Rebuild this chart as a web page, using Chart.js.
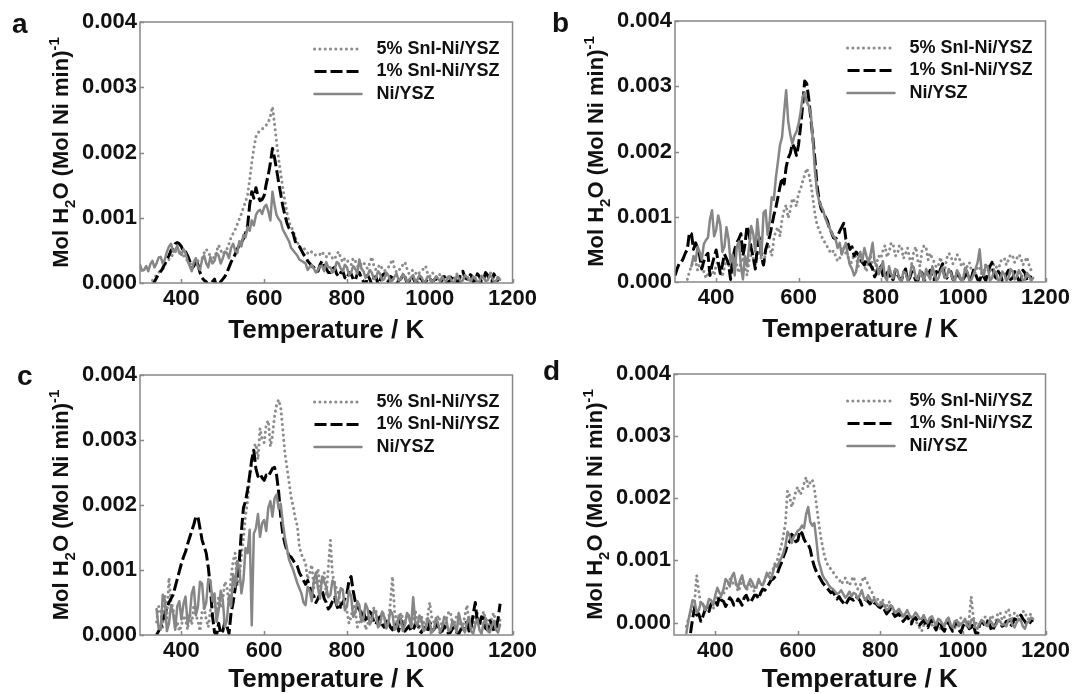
<!DOCTYPE html>
<html>
<head>
<meta charset="utf-8">
<script src="https://cdn.jsdelivr.net/npm/chart.js@4.4.1/dist/chart.umd.min.js"></script>
<style>
  html, body { margin: 0; padding: 0; background: #fff; }
  #wrap { position: relative; width: 1073px; height: 694px; overflow: hidden; }
  canvas { position: absolute; }
</style>
</head>
<body>
<div id="wrap">
  <canvas id="chartA" width="540" height="345" style="left:0;top:0"></canvas>
  <canvas id="chartB" width="533" height="345" style="left:540px;top:0"></canvas>
  <canvas id="chartC" width="540" height="349" style="left:0;top:345px"></canvas>
  <canvas id="chartD" width="533" height="349" style="left:540px;top:345px"></canvas>
</div>
<script>
// temperature grid, K (one row = 100 K)
const temps = [
  300, 305, 310, 315, 320, 325, 330, 335, 340, 345, 350, 355, 360, 365, 370, 375, 380, 385, 390, 395,
  400, 405, 410, 415, 420, 425, 430, 435, 440, 445, 450, 455, 460, 465, 470, 475, 480, 485, 490, 495,
  500, 505, 510, 515, 520, 525, 530, 535, 540, 545, 550, 555, 560, 565, 570, 575, 580, 585, 590, 595,
  600, 605, 610, 615, 620, 625, 630, 635, 640, 645, 650, 655, 660, 665, 670, 675, 680, 685, 690, 695,
  700, 705, 710, 715, 720, 725, 730, 735, 740, 745, 750, 755, 760, 765, 770, 775, 780, 785, 790, 795,
  800, 805, 810, 815, 820, 825, 830, 835, 840, 845, 850, 855, 860, 865, 870, 875, 880, 885, 890, 895,
  900, 905, 910, 915, 920, 925, 930, 935, 940, 945, 950, 955, 960, 965, 970, 975, 980, 985, 990, 995,
  1000, 1005, 1010, 1015, 1020, 1025, 1030, 1035, 1040, 1045, 1050, 1055, 1060, 1065, 1070, 1075, 1080, 1085, 1090, 1095,
  1100, 1105, 1110, 1115, 1120, 1125, 1130, 1135, 1140, 1145, 1150, 1155, 1160, 1165, 1170
];

// values in units of 1e-4 mol H2O (mol Ni min)^-1
// panel a
const aFive = [
  null, null, null, null, null, null, 0.4, 0.8, 1.2, 1.6, 2.0, 2.4, 2.8, 3.2, 3.6, 4.0, 4.4, 4.8, 5.0, 4.8,
  4.6, 4.2, 3.8, 3.4, 3.0, 2.8, 2.6, 3.0, 3.4, 3.6, 3.8, 4.6, 5.2, 4.6, 4.2, 4.0, 3.8, 4.8, 5.8, 5.0,
  4.4, 4.8, 5.2, 6.0, 7.0, 7.6, 8.2, 9.0, 9.8, 10.6, 11.6, 12.4, 13.6, 15.8, 18.4, 20.6, 22.4, 23.0, 23.4, 23.6,
  23.8, 24.2, 24.6, 25.6, 27.0, 24.4, 21.6, 19.0, 16.8, 14.6, 12.6, 10.8, 9.4, 8.6, 8.0, 7.0, 6.2, 5.8, 5.2, 5.4,
  5.0, 4.6, 4.4, 4.8, 4.6, 4.2, 4.2, 4.4, 4.8, 4.2, 4.0, 4.6, 4.4, 3.8, 3.6, 4.4, 4.8, 3.8, 3.2, 3.8,
  3.6, 3.0, 2.8, 3.8, 3.4, 2.6, 2.4, 3.0, 3.2, 2.6, 2.2, 3.0, 4.0, 2.6, 2.0, 2.4, 2.8, 2.2, 1.8, 2.2,
  2.4, 3.0, 3.6, 2.2, 1.6, 2.0, 2.2, 2.8, 3.2, 2.2, 1.4, 1.8, 2.0, 1.6, 1.2, 1.6, 1.8, 2.2, 2.6, 1.4,
  1.0, 1.6, 1.4, 1.0, 0.8, 1.4, 1.2, 0.8, 0.6, 1.2, 1.0, 0.6, 0.8, 1.4, 1.2, 0.6, 0.6, 1.0, 1.0, 0.6,
  0.4, 1.0, 0.8, 1.4, 1.2, 0.6, 0.5, 1.2, 1.0, 1.6, 1.4, 0.8, 0.6, 0.9, null
];
const aOne = [
  null, null, null, null, null, null, -0.5, 0.2, 0.8, 1.4, 1.8, 2.2, 3.0, 3.6, 4.2, 5.0, 5.4, 6.0, 6.2, 6.0,
  5.6, 4.8, 4.8, 4.2, 3.4, 2.2, 2.6, 3.6, 2.8, 1.6, 0.8, 0.4, 0.2, -0.4, -0.4, 0.2, 0.6, -0.6, -0.5, 0.2,
  0.6, 1.0, 1.6, 2.4, 3.2, 3.8, 4.4, 5.2, 5.8, 6.2, 6.8, 7.6, 8.8, 12.0, 14.0, 13.0, 14.6, 13.4, 12.6, 12.8,
  13.4, 15.2, 16.6, 18.4, 20.6, 19.2, 17.4, 15.4, 13.6, 11.8, 10.4, 9.2, 8.4, 8.0, 7.6, 6.4, 5.8, 5.6, 5.0, 4.4,
  4.0, 3.4, 3.0, 2.6, 2.4, 1.8, 1.8, 2.8, 3.4, 2.6, 2.2, 1.6, 1.6, 2.2, 2.4, 1.4, 1.0, 1.6, 1.8, 0.8,
  0.6, 1.6, 1.4, 0.6, 0.4, 1.4, 1.6, 0.8, 0.2, -0.4, 1.2, 0.6, -0.2, 0.8, 1.0, -0.2, 0.4, 1.2, 1.4, 0.6,
  0.2, 1.0, 0.8, 0.0, -0.2, 0.4, 0.6, 1.2, 1.0, 0.0, 0.2, 1.0, 0.8, 0.0, -0.2, 0.8, 0.6, 0.0, 0.2, 0.6,
  0.8, 0.2, 0.4, 0.8, 0.2, -0.2, 0.6, 1.0, -0.2, 0.2, 0.4, 1.0, 0.8, 0.2, 0.2, 1.6, 1.8, 0.8, 0.6, 1.4,
  1.2, 0.2, 0.4, 1.4, 1.0, 0.2, 0.6, 1.6, 1.2, 0.4, 0.2, 1.4, 0.8, 0.2, null
];
const aNi = [
  2.8, 1.9, 2.0, 2.6, 1.8, 2.9, 3.4, 2.4, 3.0, 3.9, 4.0, 3.0, 3.6, 4.8, 5.6, 6.0, 4.8, 5.0, 5.7, 4.6,
  4.3, 5.2, 4.6, 3.4, 2.6, 1.8, 3.2, 3.8, 2.4, 2.0, 3.6, 4.2, 3.0, 2.4, 4.0, 3.0, 3.4, 4.6, 4.2, 3.0,
  3.8, 4.8, 4.6, 3.8, 5.4, 6.0, 5.0, 4.6, 6.4, 5.6, 7.4, 7.0, 8.6, 8.0, 9.6, 8.8, 10.4, 11.0, 11.2, 10.6,
  11.6, 12.0, 11.0, 9.6, 14.0, 12.0, 10.4, 9.8, 9.4, 8.2, 7.6, 7.0, 6.4, 5.4, 5.0, 4.6, 4.2, 3.6, 3.4, 3.2,
  3.0, 2.0, 2.4, 2.8, 2.2, 1.6, 2.0, 2.6, 2.6, 1.8, 3.2, 2.4, 2.4, 1.6, 2.0, 3.2, 3.0, 2.2, 1.8, 2.8,
  2.4, 1.2, 1.6, 2.6, 2.2, 1.4, 3.6, 2.2, 1.8, 0.8, 1.2, 2.0, 1.6, 0.6, 0.8, 1.8, 1.4, 0.4, 0.6, 1.6,
  1.2, 0.2, 0.4, 1.0, 1.4, 0.4, 0.6, 1.4, 1.0, 0.2, 0.4, 0.9, 1.2, 0.2, 0.5, 1.2, 0.9, 0.2, 0.3, 1.0,
  0.8, 0.2, 0.4, 1.0, 0.7, 0.2, 1.0, 0.4, 0.3, 1.0, 0.7, 0.1, 0.2, 1.1, 0.8, 0.2, 0.4, 1.2, 0.9, 0.4,
  0.3, 1.0, 0.7, 0.2, 0.2, 1.1, 0.8, 0.3, 0.4, 1.2, 0.9, 0.2, 0.3, 0.9, 0.5
];

// panel b
const bFive = [
  null, null, null, null, null, null, 0.4, 1.6, 2.4, 3.4, 3.2, 1.8, 2.8, 3.2, 1.6, 0.6, 1.2, 2.4, 2.0, 1.0,
  2.6, 3.2, 1.8, 0.8, 2.2, 3.4, 3.0, 1.6, 3.4, 4.0, 2.6, 1.4, 3.0, 3.8, 2.2, 1.0, 3.2, 4.2, 3.6, 2.4,
  4.0, 4.8, 3.4, 2.6, 4.6, 5.8, 5.2, 4.0, 6.6, 7.8, 8.4, 7.0, 9.6, 11.0, 11.8, 9.8, 11.0, 12.8, 12.4, 11.6,
  13.6, 14.2, 15.4, 16.4, 17.4, 16.6, 15.0, 12.8, 10.4, 8.8, 8.0, 7.2, 6.4, 6.0, 5.4, 4.8, 4.4, 4.8, 4.0, 3.2,
  3.6, 4.6, 5.2, 4.4, 4.0, 2.6, 3.2, 4.2, 3.8, 2.4, 3.0, 3.8, 2.4, 1.6, 3.2, 4.0, 2.2, 1.6, 3.0, 4.0,
  3.6, 4.8, 5.6, 3.8, 4.6, 6.0, 5.8, 4.0, 4.2, 5.6, 5.4, 3.6, 4.4, 5.2, 3.6, 2.8, 4.6, 5.4, 3.2, 2.4,
  4.8, 5.6, 5.2, 3.4, 4.4, 3.6, 3.0, 2.2, 2.6, 3.8, 2.2, 1.6, 3.6, 4.4, 4.0, 2.8, 3.2, 4.2, 3.8, 2.6,
  3.0, 1.8, 2.4, 3.0, 1.8, 1.0, 1.4, 2.4, 2.2, 1.2, 1.6, 2.8, 2.6, 1.4, 1.8, 2.8, 2.4, 1.6, 3.0, 3.6,
  3.6, 2.6, 3.4, 4.2, 4.0, 3.0, 3.6, 4.2, 3.8, 2.6, 3.2, 3.8, 2.6, 1.8, null
];
const bOne = [
  1.0, 2.0, 2.8, 3.0, 3.6, 4.4, 5.0, 7.6, 7.4, 5.0, 6.0, 5.2, 4.0, 2.0, 3.2, 4.0, 4.4, 1.0, 2.6, 3.8,
  4.9, 3.0, 1.3, 2.6, 4.3, 3.6, 2.8, 0.4, 3.4, 5.0, 6.0, 6.6, 7.4, 4.0, 5.8, 8.6, 7.4, 5.2, 3.8, 2.0,
  5.4, 6.8, 4.0, 2.6, 4.9, 6.0, 7.0, 8.6, 10.2, 11.4, 13.0, 14.6, 16.0, 15.0, 17.6, 19.0, 19.7, 21.2, 20.6, 19.4,
  21.0, 23.8, 27.0, 30.8, 30.4, 28.0, 25.0, 22.0, 18.7, 14.8, 12.6, 11.2, 10.6, 10.0, 9.4, 8.2, 7.6, 6.8, 6.6, 7.0,
  7.8, 8.4, 9.0, 6.6, 5.9, 5.0, 5.4, 4.0, 4.6, 4.2, 3.6, 3.0, 2.6, 3.6, 3.0, 2.6, 2.0, 0.8, 1.4, 2.6,
  2.4, 1.0, 0.6, 1.4, 1.6, 0.2, 0.4, 1.8, 1.2, 0.6, 0.2, 1.4, 2.0, 0.2, 0.6, 1.6, 1.0, 0.2, 0.2, 1.6,
  1.4, 0.2, 0.6, 1.2, 1.8, 0.4, 0.4, 1.6, 1.0, 2.0, 2.8, 0.8, 0.6, 1.2, 1.6, 0.4, 0.2, 1.4, 1.0, 0.2,
  0.4, 1.0, 1.4, 0.2, 0.6, 1.8, 1.2, 0.4, 0.2, 1.2, 0.8, 0.2, 1.6, 2.4, 3.0, 1.0, 0.6, 1.6, 1.2, 0.2,
  0.4, 1.2, 1.8, 0.4, 0.6, 1.6, 1.0, 0.2, 0.2, 1.8, 1.4, 0.2, 0.4, 1.0, null
];
const bNi = [
  null, null, null, null, null, null, null, null, 2.4, 4.0, 3.2, 5.4, 4.6, 3.4, 5.8, 6.4, 6.8, 9.6, 11.0, 7.0,
  8.0, 10.2, 8.8, 4.6, 5.4, 8.4, 6.6, 3.0, 4.2, 1.0, 5.4, 6.2, 2.6, 0.4, 4.0, 2.4, 5.4, 8.6, 7.4, 4.6,
  9.6, 6.4, 4.0, 10.6, 11.0, 7.2, 9.4, 13.0, 12.6, 16.0, 18.4, 21.0, 22.2, 26.0, 29.4, 24.6, 22.6, 21.2, 22.4, 23.0,
  24.2, 26.0, 28.4, 29.0, 27.6, 27.0, 25.6, 21.6, 17.0, 13.8, 12.4, 11.6, 11.0, 9.8, 9.0, 8.4, 7.6, 7.0, 6.6, 5.2,
  6.0, 4.2, 5.2, 6.0, 4.0, 2.6, 2.0, 1.0, 1.6, 3.6, 4.6, 3.2, 5.2, 4.0, 3.0, 4.2, 6.0, 3.0, 2.6, 1.2,
  2.0, 3.2, 0.8, 0.2, 2.4, 1.2, 0.6, 2.0, 1.8, 0.4, 0.2, 1.6, 1.4, 0.2, 0.8, 2.6, 2.2, 0.6, 0.4, 1.8,
  1.2, 0.2, 2.0, 1.0, 0.4, 2.4, 1.4, 0.2, 0.6, 1.6, 2.2, 0.6, 0.8, 2.0, 1.4, 0.4, 0.2, 1.8, 1.2, 0.2,
  0.6, 2.2, 1.6, 0.2, 0.4, 1.2, 2.0, 3.0, 5.0, 1.4, 1.0, 2.6, 2.2, 0.2, 0.6, 1.8, 1.4, 0.2, 0.4, 1.6,
  1.2, 0.2, 0.6, 2.0, 1.6, 0.4, 0.8, 1.8, 1.2, 0.2, 0.4, 1.4, 1.0, 0.2, 0.6
];

// panel c
const cFive = [
  null, null, null, null, null, null, null, null, 2.0, 4.4, 3.6, 1.2, 6.0, 2.6, 8.8, 5.0, 4.2, 1.0, 2.0, 0.6,
  1.4, 3.0, 2.4, 0.8, 3.4, 1.6, 4.6, 3.0, 2.2, 0.6, 3.6, 4.2, 2.4, 1.2, 3.8, 5.2, 5.0, 3.0, 6.0, 4.2,
  5.4, 8.2, 7.4, 4.6, 9.0, 11.4, 12.6, 7.6, 8.6, 12.2, 14.8, 18.4, 20.6, 24.2, 26.4, 29.0, 29.4, 27.0, 31.8, 30.0,
  29.6, 32.4, 33.0, 29.0, 30.6, 33.6, 35.4, 36.2, 35.0, 31.6, 28.0, 25.8, 23.6, 21.2, 19.8, 18.0, 16.8, 13.6, 12.4, 11.8,
  11.0, 8.6, 9.6, 10.8, 7.2, 8.6, 10.2, 7.4, 8.4, 9.6, 6.0, 10.4, 14.6, 9.2, 8.2, 7.0, 6.4, 4.2, 5.0, 4.4,
  3.6, 1.8, 2.8, 4.6, 4.0, 1.2, 2.0, 3.6, 3.4, 0.8, 1.6, 3.0, 2.6, 4.2, 3.8, 1.4, 1.8, 3.6, 3.0, 1.6,
  2.2, 5.0, 9.0, 3.6, 2.0, 1.0, 3.4, 2.6, 1.6, 3.2, 3.0, 1.2, 2.4, 3.8, 1.8, 0.8, 2.8, 2.0, 1.4, 3.0,
  5.0, 2.6, 2.0, 0.8, 3.0, 2.2, 1.4, 0.6, 2.4, 3.4, 3.6, 1.4, 1.8, 3.0, 2.6, 1.0, 1.2, 3.0, 4.6, 2.0,
  1.8, 0.8, 2.8, 3.4, 1.4, 2.0, 3.6, 2.4, 2.2, 0.8, 2.8, 3.4, 1.6, 1.0, 2.4
];
const cOne = [
  null, null, null, null, null, null, null, null, 0.0, 0.6, 1.2, 2.2, 3.2, 4.2, 5.0, 5.6, 6.2, 7.4, 8.6, 9.8,
  11.0, 12.0, 12.8, 14.0, 15.0, 16.0, 17.0, 18.2, 18.2, 16.4, 14.6, 13.6, 12.6, 10.4, 7.4, 3.0, 0.4, 0.0, 1.8, 0.2,
  0.6, 2.0, 1.4, 0.2, 3.4, 5.0, 7.2, 9.0, 11.4, 16.0, 19.6, 20.6, 22.4, 24.6, 27.0, 28.4, 25.6, 24.4, 24.8, 24.2,
  23.8, 24.6, 24.4, 25.0, 25.6, 25.8, 24.6, 22.0, 18.2, 15.6, 14.1, 13.0, 12.2, 12.0, 11.5, 11.0, 10.6, 9.6, 9.0, 8.4,
  7.8, 8.4, 7.4, 6.4, 6.0, 5.0, 5.6, 6.4, 6.9, 5.6, 5.0, 4.0, 4.4, 5.2, 5.8, 4.6, 3.8, 4.6, 5.0, 5.6,
  6.4, 8.4, 9.0, 6.8, 5.2, 4.2, 4.0, 3.0, 3.6, 2.4, 2.6, 3.6, 3.2, 2.0, 1.6, 2.4, 2.8, 1.6, 1.2, 2.4,
  2.0, 1.2, 0.8, 1.8, 1.6, 0.6, 2.4, 1.4, 0.6, 1.0, 1.4, 0.6, 0.8, 1.6, 1.8, 0.6, 0.4, 1.0, 1.2, 0.4,
  2.0, 1.2, 0.8, 1.6, 1.4, 0.4, 0.6, 1.4, 1.0, 0.2, 0.4, 1.0, 1.2, 0.4, 0.2, 0.8, 1.0, 1.8, 2.0, 0.6,
  1.2, 3.2, 5.0, 2.0, 1.6, 2.8, 2.6, 1.0, 0.8, 2.2, 1.8, 0.6, 1.0, 2.4, 4.8
];
const cNi = [
  null, null, null, null, null, null, null, null, 4.0, 1.0, 0.8, 6.2, 5.4, 0.6, 1.8, 4.6, 3.4, 0.8, 4.4, 5.2,
  2.4, 4.8, 5.9, 1.6, 2.8, 6.4, 7.4, 3.0, 4.4, 8.2, 7.9, 4.0, 5.0, 8.6, 8.4, 5.2, 6.4, 2.0, 3.8, 6.8,
  5.4, 1.2, 2.3, 6.0, 4.4, 9.4, 7.4, 11.4, 10.4, 6.4, 8.5, 13.4, 12.6, 16.2, 1.5, 15.6, 16.4, 18.6, 15.1, 17.2,
  17.7, 16.0, 19.6, 20.6, 18.2, 21.0, 21.6, 19.4, 20.2, 17.2, 15.0, 13.4, 11.6, 10.8, 10.0, 9.0, 8.0, 7.2, 6.4, 5.0,
  4.6, 7.4, 6.8, 5.2, 8.4, 9.6, 7.2, 5.6, 9.0, 8.2, 7.4, 5.8, 6.2, 8.4, 7.8, 4.6, 5.6, 7.2, 7.0, 3.8,
  4.4, 6.8, 6.0, 2.8, 3.4, 5.2, 4.6, 2.0, 2.6, 4.8, 4.0, 1.6, 2.2, 3.8, 3.4, 1.2, 1.6, 3.6, 2.8, 1.0,
  1.8, 3.8, 3.2, 0.8, 1.2, 3.0, 2.4, 0.6, 1.6, 3.4, 2.8, 1.2, 5.8, 2.0, 1.4, 3.0, 2.4, 0.6, 1.0, 2.6,
  2.0, 0.4, 0.8, 2.6, 1.8, 0.4, 1.2, 2.8, 2.4, 0.6, 0.8, 2.2, 1.6, 0.4, 3.4, 2.0, 1.0, 0.4, 2.0, 2.8,
  0.6, 0.2, 1.6, 2.4, 0.8, 0.2, 1.8, 2.6, 0.6, 0.4, 1.4, 2.2, 0.8, 0.4, 1.6
];

// panel d
const dFive = [
  null, null, null, null, null, null, -0.6, 0.6, 1.6, 2.4, 3.4, 7.6, 5.0, 3.0, 3.0, 2.0, 2.0, 3.0, 2.6, 2.2,
  3.2, 4.0, 3.8, 4.4, 4.6, 5.4, 5.6, 7.0, 6.9, 6.0, 6.2, 5.0, 5.6, 6.8, 6.4, 5.2, 5.8, 6.4, 5.4, 5.0,
  5.8, 6.6, 6.2, 6.0, 6.9, 7.6, 7.8, 8.2, 8.6, 9.6, 10.0, 11.2, 12.4, 14.0, 16.0, 21.2, 20.4, 18.6, 19.6, 21.2,
  21.8, 20.6, 21.0, 22.4, 23.4, 21.8, 22.6, 23.0, 21.6, 19.0, 16.4, 14.0, 12.2, 10.6, 9.6, 9.0, 8.6, 8.2, 7.6, 7.2,
  7.0, 6.2, 6.6, 7.2, 6.4, 6.0, 6.8, 7.4, 6.2, 5.4, 5.8, 6.6, 7.4, 6.8, 6.2, 5.4, 4.8, 4.0, 3.6, 3.8,
  3.2, 3.8, 2.8, 2.4, 3.4, 3.0, 2.2, 1.6, 1.8, 1.4, 1.2, 0.8, 1.4, 1.0, 0.6, 0.2, 0.8, 0.2, -0.2, -0.8,
  -1.4, -0.4, -0.6, 0.4, 0.2, -0.4, -0.8, 0.0, -0.2, -1.0, -1.2, -0.2, 0.0, 0.6, -0.4, -1.2, -1.0, 0.2, -0.2, 0.8,
  0.4, -0.2, -0.6, 0.6, 4.2, 0.8, 0.2, -0.6, -0.4, 0.4, 0.6, 1.0, 0.2, 0.6, 1.2, 0.4, 0.4, 1.6, 1.6, 0.4,
  0.8, 1.8, 2.2, 0.8, 0.6, 1.6, 1.4, 0.4, 0.4, 1.8, 1.8, 0.6, 0.6, 1.6, 1.2
];
const dOne = [
  null, null, null, null, null, null, null, null, -1.7, 0.6, 2.4, 1.2, 1.4, 0.2, 1.0, 2.0, 2.6, 1.8, 3.0, 3.4,
  3.6, 2.8, 4.2, 3.6, 3.4, 2.6, 3.2, 4.0, 3.6, 2.8, 3.0, 3.8, 3.4, 2.8, 4.0, 4.4, 3.6, 3.2, 3.8, 4.4,
  4.4, 3.8, 4.8, 5.4, 5.2, 5.6, 6.2, 6.8, 7.0, 7.4, 7.8, 8.8, 9.6, 10.6, 11.4, 12.6, 13.0, 14.2, 13.8, 13.0,
  13.2, 14.8, 14.4, 13.4, 12.8, 12.6, 11.8, 10.2, 9.0, 8.2, 7.6, 7.0, 6.4, 6.0, 5.6, 5.2, 4.8, 5.0, 4.4, 3.8,
  4.2, 3.6, 3.2, 2.8, 3.4, 4.0, 3.8, 3.6, 4.2, 4.0, 3.6, 2.8, 3.2, 3.8, 3.4, 3.0, 3.6, 3.2, 3.0, 2.6,
  2.4, 2.8, 2.0, 1.4, 1.8, 2.2, 1.6, 1.0, 1.2, 1.4, 0.8, 0.2, 0.6, 1.0, 0.4, -0.2, 0.6, 0.8, 0.2, -0.4,
  0.0, 0.4, -0.4, -0.8, 0.2, 0.4, -0.6, -1.2, -0.2, 0.2, -1.0, -1.4, -0.4, 0.0, -0.8, -1.4, -0.2, 0.2, -1.2, -1.6,
  -0.6, 0.0, -0.2, -1.0, -0.8, -0.2, -1.6, -2.0, -0.4, 0.2, -0.2, -0.6, 0.2, -0.4, -1.4, -0.8, -0.2, 0.4, 0.0, -0.6,
  -0.4, 0.2, 0.2, -0.6, -0.2, 0.6, 0.4, 0.8, 1.2, 0.6, 0.2, -0.4, -0.2, 0.2, 0.4
];
const dNi = [
  null, null, null, null, null, null, -1.7, 0.4, 2.0, 3.6, 3.4, 1.6, 2.0, 3.2, 3.0, 2.0, 2.6, 3.8, 3.6, 2.8,
  4.4, 5.6, 4.8, 4.4, 5.4, 7.0, 6.6, 5.8, 7.4, 8.0, 6.4, 5.6, 6.8, 7.6, 6.0, 5.4, 6.2, 7.0, 6.4, 5.6,
  5.8, 7.0, 6.2, 6.0, 6.9, 8.0, 7.4, 7.0, 8.2, 9.4, 9.0, 9.8, 10.4, 11.2, 12.4, 14.6, 14.0, 12.8, 13.8, 14.2,
  14.8, 15.0, 15.6, 15.2, 17.4, 18.6, 16.2, 15.6, 16.0, 13.2, 10.0, 8.8, 7.6, 7.0, 6.6, 6.0, 5.6, 5.4, 5.0, 4.6,
  4.8, 5.2, 4.6, 4.0, 4.4, 5.0, 4.2, 4.8, 4.6, 3.8, 4.4, 5.2, 4.0, 3.6, 4.4, 3.8, 3.4, 3.8, 3.2, 2.8,
  2.8, 3.2, 2.6, 2.0, 2.2, 2.8, 2.4, 1.6, 1.8, 2.2, 1.6, 1.0, 1.4, 2.0, 1.2, 0.8, 1.0, 1.6, 1.2, 0.6,
  0.6, 1.2, 0.4, 0.0, 0.8, 1.0, 0.2, -0.4, 0.6, 0.4, -0.2, -0.6, 0.4, 0.8, -0.4, -0.8, 0.2, 0.4, -0.6, -0.2,
  0.0, 0.6, -0.4, -0.8, 0.4, 0.6, -0.8, -1.0, -0.2, 0.4, 0.2, -0.4, -0.6, 0.4, 0.0, -0.6, -0.4, 0.4, 0.2, -0.4,
  -0.2, -0.6, 0.4, 0.6, -0.4, -0.8, 0.0, 0.6, 0.4, -0.6, -1.0, 0.0, 0.2, 0.8, 0.6
];

const seriesLabels = ['5% SnI-Ni/YSZ', '1% SnI-Ni/YSZ', 'Ni/YSZ'];
const xTickValues = [400, 600, 800, 1000, 1200];
const xTickLabels = ['400', '600', '800', '1000', '1200'];
const yTickValues = [0, 10, 20, 30, 40];
const yTickLabels = ['0.000', '0.001', '0.002', '0.003', '0.004'];
const xTitle = 'Temperature / K';
const yTitleParts = ['Mol H', '2', 'O (Mol Ni min)', '-1'];
const panelLetters = ['a', 'b', 'c', 'd'];

const FONT = 'Arial, "Liberation Sans", Helvetica, sans-serif';

const styles = [
  { color: '#8c8c8c', width: 3, dash: [0.1, 5.2], cap: 'round' },
  { color: '#000000', width: 3, dash: [12, 4], cap: 'butt' },
  { color: '#868686', width: 2.5, dash: [], cap: 'round' },
];

function drawYTitle(ctx, cx, cy, fs) {
  const parts = [
    { t: yTitleParts[0], s: 1, dy: 0 },
    { t: yTitleParts[1], s: 0.68, dy: 0.3 },
    { t: yTitleParts[2], s: 1, dy: 0 },
    { t: yTitleParts[3], s: 0.68, dy: -0.42 },
  ];
  ctx.save();
  ctx.translate(cx, cy);
  ctx.rotate(-Math.PI / 2);
  ctx.textAlign = 'left';
  ctx.textBaseline = 'alphabetic';
  ctx.fillStyle = '#111';
  let total = 0;
  parts.forEach(p => {
    ctx.font = `bold ${fs * p.s}px ${FONT}`;
    p.w = ctx.measureText(p.t).width;
    total += p.w;
  });
  let x = -total / 2;
  const base = fs * 0.36;
  parts.forEach(p => {
    ctx.font = `bold ${fs * p.s}px ${FONT}`;
    ctx.fillText(p.t, x, base + p.dy * fs);
    x += p.w;
  });
  ctx.restore();
}

const panelDecor = {
  id: 'panelDecor',
  afterDatasetsDraw(chart) {
    const p = chart.config.options.plugins.panelDecor;
    const { ctx, chartArea: { left, right, top, bottom } } = chart;
    const xs = chart.scales.x, ys = chart.scales.y;
    ctx.save();

    // frame and inward tick marks
    ctx.strokeStyle = '#888';
    ctx.lineWidth = 1.5;
    ctx.setLineDash([]);
    ctx.strokeRect(left, top, right - left, bottom - top);
    ctx.beginPath();
    xTickValues.forEach(v => {
      const px = Math.round(xs.getPixelForValue(v)) + 0.5;
      ctx.moveTo(px, bottom); ctx.lineTo(px, bottom - 4);
    });
    yTickValues.forEach(v => {
      const py = Math.round(ys.getPixelForValue(v)) + 0.5;
      ctx.moveTo(left, py); ctx.lineTo(left + 4, py);
    });
    ctx.stroke();

    // legend, top right inside the plot
    ctx.font = `bold 18px ${FONT}`;
    ctx.textBaseline = 'middle';
    ctx.textAlign = 'left';
    [0, 1, 2].forEach(i => {
      const y = top + 27 + i * 22.5;
      const st = styles[i];
      ctx.beginPath();
      ctx.strokeStyle = st.color;
      ctx.lineWidth = st.width;
      ctx.lineCap = st.cap;
      ctx.setLineDash(st.dash);
      ctx.moveTo(right - 198, y);
      ctx.lineTo(right - 151, y);
      ctx.stroke();
      ctx.setLineDash([]);
      ctx.fillStyle = '#111';
      ctx.fillText(seriesLabels[i], right - 136, y);
    });

    // axis titles
    ctx.font = `bold 26px ${FONT}`;
    ctx.textAlign = 'center';
    ctx.textBaseline = 'alphabetic';
    ctx.fillText(xTitle, (left + right) / 2, bottom + p.titleGap);
    drawYTitle(ctx, left - 80, (top + bottom) / 2, 22);

    // panel letter
    ctx.font = `bold 28px ${FONT}`;
    ctx.textAlign = 'left';
    ctx.fillText(p.letter, p.letterX, p.letterY);
    ctx.restore();
  }
};
Chart.register(panelDecor);

function makePanel(id, letterIdx, g, five, one, ni) {
  const pts = arr => temps.map((t, i) => ({ x: t, y: arr[i] }));
  const ds = (arr, i) => ({
    label: seriesLabels[i],
    data: pts(arr),
    borderColor: styles[i].color,
    borderWidth: styles[i].width,
    borderDash: styles[i].dash,
    borderCapStyle: styles[i].cap,
    borderJoinStyle: 'round',
    pointRadius: 0,
    tension: 0,
    fill: false,
    spanGaps: false,
    clip: 0,
  });
  const tickFont = { family: FONT, size: 22, weight: 'bold' };
  new Chart(document.getElementById(id), {
    type: 'line',
    data: { datasets: [ds(ni, 2), ds(one, 1), ds(five, 0)] },
    options: {
      responsive: false,
      animation: false,
      devicePixelRatio: 1,
      layout: { padding: { left: 0, right: g.padR, top: g.padT, bottom: 0 } },
      plugins: {
        legend: { display: false },
        tooltip: { enabled: false },
        panelDecor: { letter: panelLetters[letterIdx], letterX: g.letterX, letterY: g.letterY, titleGap: g.titleGap },
      },
      scales: {
        x: {
          type: 'linear', min: 300, max: 1200,
          afterBuildTicks: s => { s.ticks = xTickValues.map(v => ({ value: v })); },
          afterFit: s => { s.height = g.xh; },
          grid: { display: false, drawTicks: false },
          border: { display: false },
          ticks: {
            font: tickFont, color: '#111', padding: 3, maxRotation: 0, autoSkip: false,
            callback: v => xTickLabels[xTickValues.indexOf(v)],
          },
        },
        y: {
          type: 'linear', min: g.yMin, max: 40,
          afterBuildTicks: s => { s.ticks = yTickValues.map(v => ({ value: v })); },
          afterFit: s => { s.width = g.L; },
          grid: { display: false, drawTicks: false },
          border: { display: false },
          ticks: {
            font: tickFont, color: '#111', padding: 3, autoSkip: false,
            callback: v => yTickLabels[yTickValues.indexOf(v)],
          },
        },
      },
    },
  });
}

makePanel('chartA', 0, { L: 140, padR: 27, padT: 22, xh: 62, yMin: 0, letterX: 12, letterY: 33, titleGap: 55 }, aFive, aOne, aNi);
makePanel('chartB', 1, { L: 135, padR: 26, padT: 21, xh: 63, yMin: 0, letterX: 12, letterY: 32, titleGap: 55 }, bFive, bOne, bNi);
makePanel('chartC', 2, { L: 140, padR: 26, padT: 30, xh: 59, yMin: 0, letterX: 17, letterY: 40, titleGap: 52 }, cFive, cOne, cNi);
makePanel('chartD', 3, { L: 134, padR: 25, padT: 29, xh: 59, yMin: -2, letterX: 3, letterY: 35, titleGap: 52 }, dFive, dOne, dNi);
</script>
</body>
</html>
